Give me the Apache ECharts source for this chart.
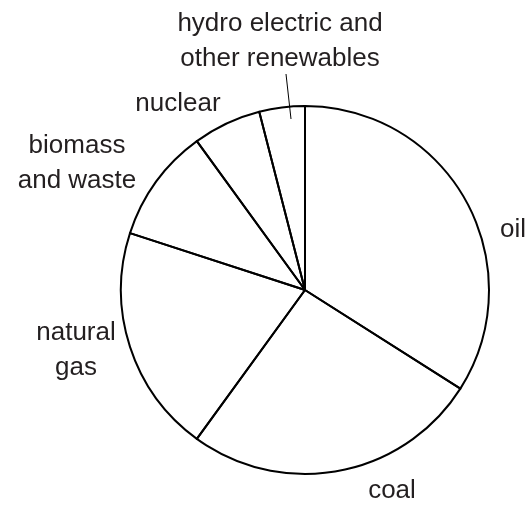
<!DOCTYPE html>
<html>
<head>
<meta charset="utf-8">
<script src="https://cdn.jsdelivr.net/npm/echarts@6/dist/echarts.min.js"></script>
<style>
  html, body { margin: 0; padding: 0; background: #fff; }
  #chart { width: 530px; height: 507px; }
</style>
</head>
<body>
<div id="chart"></div>
<script>
// energy sources, clockwise from 12 o'clock
const sources = ['oil', 'coal', 'natural\ngas', 'biomass\nand waste', 'nuclear', 'hydro electric and\nother renewables']
const shares = [34, 26, 20, 10, 6, 4]

// where each label sits (x, y of its centre)
const labelSpots = [
  [513, 230],
  [392, 491],
  [76, 350],
  [77, 163],
  [178, 104],
  [280, 41]
]

const myChart = echarts.init(document.getElementById('chart'))

myChart.setOption({
  animation: false,
  backgroundColor: '#fff',
  series: [
    {
      type: 'pie',
      center: [305, 290],
      radius: 184,
      startAngle: 90,
      clockwise: true,
      silent: true,
      avoidLabelOverlap: false,
      itemStyle: {
        color: 'rgba(255,255,255,0)', // transparent so the hydro pointer shows inside
        borderColor: '#000',
        borderWidth: 2
      },
      label: {
        show: true,
        position: 'outside',
        color: '#231f20',
        fontFamily: 'Liberation Sans, Arial, sans-serif',
        fontSize: 26,
        lineHeight: 35,
        align: 'center'
      },
      labelLine: { show: false },
      labelLayout: function (params) {
        const spot = labelSpots[params.dataIndex]
        const out = {
          x: spot[0],
          y: spot[1],
          align: 'center',
          verticalAlign: 'middle'
        }
        // hydro gets a small pointer into its thin slice
        if (params.dataIndex === sources.length - 1) {
          out.labelLinePoints = [[291, 119], [286, 74], [286, 74]]
        }
        return out
      },
      data: sources.map((name, i) => ({
        name: name,
        value: shares[i],
        labelLine: i === sources.length - 1
          ? { show: true, lineStyle: { color: '#000', width: 1 } }
          : { show: false }
      }))
    }
  ]
})
</script>
</body>
</html>
